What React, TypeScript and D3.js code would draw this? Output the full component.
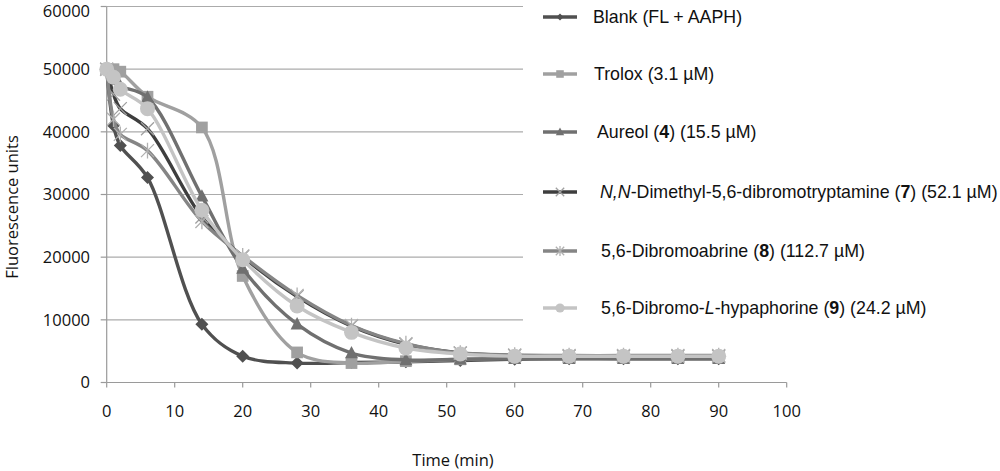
import React from "react";
import * as d3 from "d3";

const times = [0, 1, 2, 6, 14, 20, 28, 36, 44, 52, 60, 68, 76, 84, 90];

const blank = [50000, 41000, 37800, 32700, 9300, 4200, 3100, 3200, 3300, 3500, 3700, 3800, 3800, 3800, 3800];
const trolox = [50000, 50000, 49600, 45600, 40700, 17000, 4800, 3100, 3400, 3700, 3900, 4000, 4100, 4100, 4100];
const aureol = [50000, 48300, 47300, 45500, 29700, 18200, 9300, 4700, 3600, 3700, 3800, 3800, 3800, 3800, 3800];
const dimethyl = [50000, 46000, 43700, 40500, 26400, 20100, 13700, 9000, 6100, 4700, 4300, 4200, 4200, 4200, 4200];
const dibromoabrine = [50000, 42000, 39600, 37000, 25700, 20200, 13900, 9100, 6200, 4700, 4400, 4300, 4300, 4300, 4300];
const hypaphorine = [50000, 48700, 46800, 43700, 27500, 19600, 12200, 8000, 5500, 4550, 4200, 4200, 4200, 4200, 4200];

const yTicks = [0, 10000, 20000, 30000, 40000, 50000, 60000];
const xTicks = [0, 10, 20, 30, 40, 50, 60, 70, 80, 90, 100];

type Marker = "diamond" | "square" | "triangle" | "x" | "star" | "circle";

const series: { name: React.ReactNode; values: number[]; color: string; mcolor: string; marker: Marker }[] = [
  { name: <>Blank (FL + AAPH)</>, values: blank, color: "#505050", mcolor: "#505050", marker: "diamond" },
  { name: <>Trolox (3.1 µM)</>, values: trolox, color: "#a0a0a0", mcolor: "#a0a0a0", marker: "square" },
  { name: <>Aureol (<tspan fontWeight="bold">4</tspan>) (15.5 µM)</>, values: aureol, color: "#707070", mcolor: "#707070", marker: "triangle" },
  {
    name: <><tspan fontStyle="italic">N,N</tspan>-Dimethyl-5,6-dibromotryptamine (<tspan fontWeight="bold">7</tspan>)  (52.1 µM)</>,
    values: dimethyl, color: "#3e3e3e", mcolor: "#a0a0a0", marker: "x",
  },
  { name: <>5,6-Dibromoabrine (<tspan fontWeight="bold">8</tspan>) (112.7 µM)</>, values: dibromoabrine, color: "#858585", mcolor: "#b0b0b0", marker: "star" },
  {
    name: <>5,6-Dibromo-<tspan fontStyle="italic">L</tspan>-hypaphorine (<tspan fontWeight="bold">9</tspan>) (24.2 µM)</>,
    values: hypaphorine, color: "#c4c4c4", mcolor: "#c4c4c4", marker: "circle",
  },
];

const legendY = [17, 74, 132, 192, 251, 308];
const legendTextX = [593, 594, 597, 600, 601, 601];

function MarkerShape({ type, x, y, color, s }: { type: Marker; x: number; y: number; color: string; s: number }) {
  switch (type) {
    case "diamond":
      return <path d={`M${x},${y - s}L${x + s},${y}L${x},${y + s}L${x - s},${y}Z`} fill={color} />;
    case "square":
      return <rect x={x - s * 0.9} y={y - s * 0.9} width={1.8 * s} height={1.8 * s} fill={color} />;
    case "triangle":
      return <path d={`M${x},${y - s * 1.1}L${x + s},${y + s * 0.8}L${x - s},${y + s * 0.8}Z`} fill={color} />;
    case "x":
      return (
        <path d={`M${x - s},${y - s}L${x + s},${y + s}M${x - s},${y + s}L${x + s},${y - s}`} stroke={color} strokeWidth={1.3} fill="none" />
      );
    case "star":
      return (
        <path
          d={`M${x - s},${y - s}L${x + s},${y + s}M${x - s},${y + s}L${x + s},${y - s}M${x},${y - s * 1.2}L${x},${y + s * 1.2}`}
          stroke={color}
          strokeWidth={1.3}
          fill="none"
        />
      );
    case "circle":
      return <circle cx={x} cy={y} r={s * 1.1} fill={color} />;
  }
}

export default function App() {
  const x = d3.scaleLinear().domain([0, 100]).range([106.7, 786.7]);
  const y = d3.scaleLinear().domain([0, 60000]).range([382.5, 6.5]);
  const line = d3
    .line<number>()
    .x((_, i) => x(times[i]))
    .y((d) => y(d))
    .curve(d3.curveCatmullRom.alpha(0.5));

  const tickFont = "'Open Sans', sans-serif";
  const legendFont = "'Liberation Sans', Arial, sans-serif";

  return (
    <svg width={1000} height={471} style={{ position: "absolute", left: 0, top: 0, background: "#fff" }}>
      <rect width={1000} height={471} fill="#fff" />
      {yTicks.slice(1).map((t) => (
        <line key={t} x1={x(0)} x2={523} y1={y(t)} y2={y(t)} stroke="#ababab" strokeWidth={1.2} />
      ))}
      <line x1={x(0)} x2={x(0)} y1={y(60000)} y2={y(0)} stroke="#9a9a9a" strokeWidth={1.2} />
      <line x1={x(0)} x2={x(100)} y1={y(0)} y2={y(0)} stroke="#9a9a9a" strokeWidth={1.2} />
      {yTicks.map((t) => (
        <g key={t}>
          <line x1={x(0) - 6} x2={x(0)} y1={y(t)} y2={y(t)} stroke="#9a9a9a" strokeWidth={1.2} />
          <text x={90} y={Math.max(y(t), 11)} dy="0.36em" textAnchor="end" fontFamily={tickFont} fontSize={16.5} fill="#111">
            {t}
          </text>
        </g>
      ))}
      {xTicks.map((t) => (
        <g key={t}>
          <line x1={x(t)} x2={x(t)} y1={y(0)} y2={y(0) + 5} stroke="#9a9a9a" strokeWidth={1.2} />
          <text x={x(t)} y={411} dy="0.36em" textAnchor="middle" fontFamily={tickFont} fontSize={16.5} fill="#111">
            {t}
          </text>
        </g>
      ))}
      <text x={453} y={460} dy="0.36em" textAnchor="middle" fontFamily={tickFont} fontSize={16.5} fill="#111">
        Time (min)
      </text>
      <text transform="translate(12,207) rotate(-90)" dy="0.36em" textAnchor="middle" fontFamily={tickFont} fontSize={16.5} fill="#111">
        Fluorescence units
      </text>
      {series.map((s, si) => (
        <g key={si}>
          <path d={line(s.values) || ""} fill="none" stroke={s.color} strokeWidth={3.4} />
          {s.values.map((v, i) => (
            <MarkerShape key={i} type={s.marker} x={x(times[i])} y={y(v)} color={s.mcolor} s={s.marker === "circle" ? 6.8 : 6.5} />
          ))}
        </g>
      ))}
      {series.map((s, si) => (
        <g key={si}>
          <line x1={543} x2={577} y1={legendY[si]} y2={legendY[si]} stroke={s.color} strokeWidth={3.4} />
          <MarkerShape type={s.marker} x={560} y={legendY[si]} color={s.mcolor} s={s.marker === "diamond" ? 3.5 : 4.2} />
          <text x={legendTextX[si]} y={legendY[si]} dy="0.35em" fontFamily={legendFont} fontSize={17.8} fill="#111">
            {s.name}
          </text>
        </g>
      ))}
    </svg>
  );
}
